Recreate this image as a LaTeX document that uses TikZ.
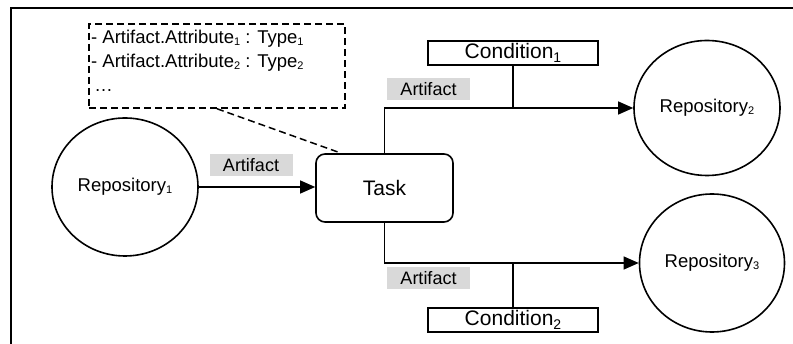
\documentclass[tikz,border=0pt]{standalone}
\usepackage{fontspec}
\setmainfont{Liberation Sans}
\usetikzlibrary{arrows.meta,shapes.geometric,calc}
\newcommand{\smsub}[1]{\raisebox{-1.5pt}{\fontsize{11}{11}\selectfont #1}}
\newcommand{\bigsub}[1]{\raisebox{-4pt}{\fontsize{14}{14}\selectfont #1}}
\tikzset{
  repo/.style={ellipse, draw, line width=1.6pt, inner sep=0pt, font=\fontsize{18.5}{18.5}\selectfont},
  taskbox/.style={rectangle, rounded corners=9pt, draw, line width=1.6pt, font=\fontsize{21}{21}\selectfont, minimum width=137pt, minimum height=68pt},
  condbox/.style={rectangle, draw, line width=1.1pt, font=\fontsize{21}{21}\selectfont, minimum width=170pt, minimum height=24pt, inner sep=0pt},
  artlabel/.style={rectangle, fill=black!15, font=\fontsize{18}{18}\selectfont, minimum width=83pt, minimum height=22pt, inner sep=0pt},
  conn/.style={line width=1.1pt},
  arrowconn/.style={line width=1.1pt, -{Triangle[length=15pt,width=13pt]}},
  dashline/.style={line width=1.5pt, dash pattern=on 7pt off 4pt}
}
\begin{document}
\begin{tikzpicture}[x=1pt,y=-1pt]
\useasboundingbox (0,0) rectangle (793,344);
% frame
\draw[line width=2.2pt] (11,345) -- (11,8) -- (794,8);
% nodes
\node[repo, minimum width=146pt, minimum height=138pt] (rep1) at (125,187) {Repository\smsub{1}};
\node[repo, minimum width=146pt, minimum height=135pt] (rep2) at (707,108) {Repository\smsub{2}};
\node[repo, minimum width=145pt, minimum height=138pt] (rep3) at (712,263) {Repository\smsub{3}};
\node[taskbox] (task) at (384.5,188) {Task};
\node[condbox] (cond1) at (513,53) {Condition\bigsub{1}};
\node[condbox] (cond2) at (513,320) {Condition\bigsub{2}};
\node[artlabel] (lab1) at (251,165.5) {Artifact};
\node[artlabel] (lab2) at (428.5,89) {Artifact};
\node[artlabel] (lab3) at (428.5,278) {Artifact};
\node[draw, dashline, minimum width=256pt, minimum height=84pt, inner sep=0pt] (attr) at (217,66) {};
\node[anchor=north west, align=left, inner sep=0pt, font=\fontsize{18.5}{24}\selectfont] (attrtext) at (91,30)
  {- Artifact.Attribute\smsub{1} : Type\smsub{1}\\- Artifact.Attribute\smsub{2} : Type\smsub{2}\\\,…};
% connectors
\draw[arrowconn] (rep1.east) -- (task.west |- rep1.east);
\draw[arrowconn] (task.north) |- (rep2.west);
\draw[arrowconn] (task.south) |- (rep3.west);
\draw[conn] (cond1.south) -- (cond1.south |- rep2.west);
\draw[conn] (cond2.north) -- (cond2.north |- rep3.west);
\draw[dashline] (attr.south) -- ([xshift=26pt]task.north west);
\end{tikzpicture}
\end{document}
